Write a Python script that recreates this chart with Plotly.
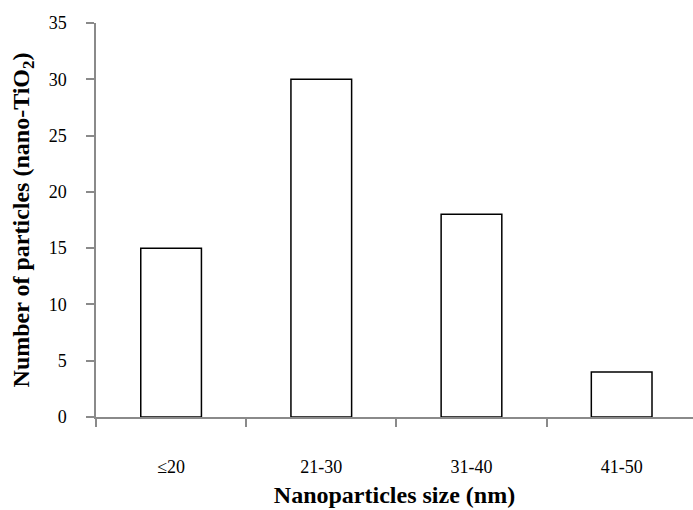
import plotly.graph_objects as go

categories = ["≤20", "21-30", "31-40", "41-50"]
counts = [15, 30, 18, 4]
y_ticks = [0, 5, 10, 15, 20, 25, 30, 35]

axis_color = "#8a8a8a"
font_family = "Liberation Serif, Times New Roman, serif"

fig = go.Figure(
    go.Bar(
        x=categories,
        y=counts,
        width=0.404,
        marker=dict(color="white", line=dict(color="black", width=1.5)),
    )
)

fig.update_layout(
    width=693,
    height=510,
    margin=dict(l=96, r=0, t=23, b=93),
    paper_bgcolor="white",
    plot_bgcolor="white",
    showlegend=False,
    font=dict(family=font_family, color="black"),
)

fig.update_xaxes(
    type="category",
    range=[-0.5, 3.475],
    tickson="boundaries",
    ticks="outside",
    ticklen=8,
    tickcolor=axis_color,
    tickwidth=1.5,
    showline=True,
    linecolor=axis_color,
    linewidth=1.5,
    showgrid=False,
    tickfont=dict(size=18, family=font_family),
    ticklabelstandoff=33,
    title=dict(text="<b>Nanoparticles size (nm)</b>", font=dict(size=24, family=font_family), standoff=10),
)

fig.update_yaxes(
    range=[0, 35],
    tickvals=y_ticks,
    ticks="outside",
    ticklen=8,
    tickcolor=axis_color,
    tickwidth=1.5,
    showline=True,
    linecolor=axis_color,
    linewidth=1.5,
    showgrid=False,
    zeroline=False,
    tickfont=dict(size=18, family=font_family),
    ticklabelstandoff=16,
    title=dict(text="<b>Number of particles (nano-TiO<sub>2</sub>)</b>", font=dict(size=24, family=font_family), standoff=12),
)

fig.write_html("out.html")
